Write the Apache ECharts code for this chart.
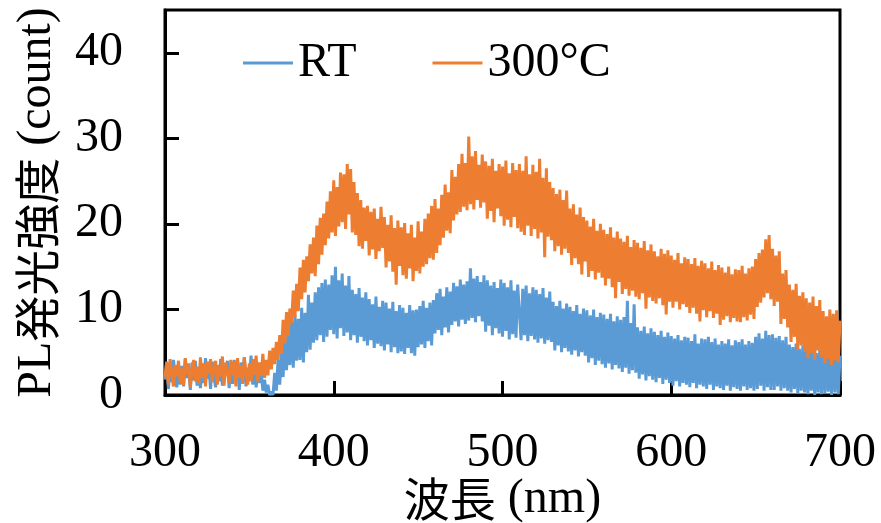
<!DOCTYPE html>
<html>
<head>
<meta charset="utf-8">
<script src="https://cdn.jsdelivr.net/npm/echarts@6/dist/echarts.min.js"></script>
<style>
html,body{margin:0;padding:0;background:#fff;}
#chart{width:881px;height:523px;}
</style>
</head>
<body>
<div id="chart"></div>
<script>
// Wavelength grid (nm)
const WL_START = 300;
const WL_STEP = 1;
const X_TICKS = [300, 400, 500, 600, 700];
const Y_TICKS = [0, 10, 20, 30, 40];
const SERIES_NAMES = ['RT', '300°C'];

// RT PL intensity (count), 300..700 nm, 1 nm step
const RT = [
  1.8, 3.9, 0.7, 3.2, 1.5, 4.1, 2.3, 0.9, 3.6, 1.2,
  3.4, 1.0, 4.2, 2.0, 3.0, 0.6, 3.8, 1.7, 4.0, 1.1,
  2.8, 0.8, 3.7, 1.4, 4.3, 1.9, 3.3, 0.7, 3.9, 2.1,
  0.9, 3.5, 1.6, 4.2, 1.1, 3.1, 2.4, 4.0, 0.8, 3.6,
  1.3, 4.1, 2.2, 3.4, 0.6, 3.8, 1.5, 4.4, 1.0, 3.2,
  2.0, 4.6, 1.2, 3.7, 0.9, 3.0, 1.4, 2.6, 0.5, 1.8,
  0.3, 1.2, 0.0, 0.4, 0.0, 2.6, 0.5, 4.1, 1.2, 5.0,
  2.1, 6.8, 2.9, 7.4, 3.5, 8.6, 3.2, 9.4, 4.0, 8.9,
  4.1, 10.2, 3.8, 9.6, 5.0, 11.7, 5.3, 10.8, 6.1, 12.0,
  6.4, 12.6, 7.0, 13.1, 6.2, 13.5, 6.8, 12.9, 7.6, 14.0,
  7.1, 15.0, 6.6, 13.4, 7.8, 14.2, 6.9, 12.8, 7.3, 13.9,
  6.4, 12.3, 7.0, 11.8, 6.1, 12.5, 6.8, 11.4, 6.3, 12.0,
  5.8, 11.2, 6.4, 10.6, 5.5, 11.5, 6.0, 10.3, 5.7, 11.0,
  5.2, 10.8, 5.9, 10.1, 5.0, 10.9, 5.6, 9.8, 4.9, 10.5,
  5.1, 10.2, 4.8, 9.6, 5.5, 10.5, 4.9, 9.9, 4.6, 10.0,
  5.6, 10.4, 5.9, 11.0, 5.5, 10.2, 6.3, 10.8, 5.8, 11.1,
  7.2, 11.9, 7.6, 12.4, 7.0, 11.5, 7.9, 12.6, 7.3, 12.1,
  8.2, 13.1, 8.6, 12.7, 8.0, 13.5, 8.8, 12.9, 8.3, 13.3,
  8.7, 14.8, 9.0, 13.6, 8.5, 13.9, 9.2, 13.2, 8.6, 14.0,
  7.4, 13.4, 8.1, 12.8, 7.0, 13.2, 7.8, 12.5, 7.2, 13.5,
  6.8, 13.1, 7.5, 12.6, 6.5, 13.4, 7.1, 12.2, 6.7, 12.9,
  13.0, 6.4, 12.4, 7.0, 12.8, 6.3, 11.9, 6.9, 12.6, 6.5,
  12.3, 6.1, 11.8, 6.6, 12.5, 6.0, 11.4, 6.4, 12.1, 6.2,
  10.9, 5.2, 10.4, 5.8, 11.0, 5.0, 10.1, 5.5, 10.7, 5.1,
  10.3, 4.7, 9.8, 5.2, 10.5, 4.5, 9.5, 5.0, 10.1, 4.6,
  9.9, 3.8, 9.3, 4.3, 10.0, 3.5, 9.1, 4.0, 9.6, 3.6,
  9.4, 3.2, 8.9, 3.7, 9.5, 3.0, 8.6, 3.5, 9.2, 3.1,
  8.8, 2.7, 9.1, 3.2, 11.0, 2.5, 8.4, 2.9, 10.6, 2.6,
  7.9, 1.9, 7.5, 2.4, 8.0, 1.7, 7.2, 2.2, 7.8, 1.8,
  7.4, 1.5, 7.0, 2.0, 7.5, 1.3, 6.8, 1.8, 7.3, 1.4,
  6.9, 1.1, 6.6, 1.6, 7.0, 1.0, 6.4, 1.4, 6.8, 1.2,
  6.7, 0.9, 6.3, 1.4, 7.1, 0.8, 6.0, 1.2, 6.6, 1.0,
  6.5, 0.7, 6.8, 1.2, 6.2, 0.6, 6.6, 1.0, 5.9, 0.8,
  6.3, 0.6, 6.0, 1.1, 6.5, 0.5, 5.8, 0.9, 6.4, 0.7,
  6.2, 0.5, 6.5, 1.0, 5.9, 0.6, 6.3, 0.8, 6.1, 0.5,
  6.8, 0.7, 7.2, 1.1, 6.6, 0.5, 7.5, 0.9, 7.0, 0.6,
  7.1, 0.6, 6.7, 1.0, 6.9, 0.5, 6.4, 0.8, 6.8, 0.5,
  5.9, 0.3, 5.6, 0.7, 6.0, 0.2, 5.4, 0.5, 5.8, 0.3,
  5.4, 0.1, 5.2, 0.5, 5.5, 0.0, 4.9, 0.3, 5.3, 0.1,
  5.1, 0.2, 5.5, 0.4, 4.8, 0.0, 5.3, 0.3, 5.0, 0.1, 4.6
];

// 300°C PL intensity (count), 300..700 nm, 1 nm step
const T300 = [
  2.1, 3.8, 1.2, 4.2, 2.6, 1.0, 3.5, 2.2, 4.0, 1.4,
  3.1, 1.1, 4.3, 2.4, 3.7, 0.9, 2.9, 4.1, 1.6, 3.3,
  1.3, 4.4, 2.0, 3.6, 1.0, 3.9, 2.5, 4.2, 1.5, 3.0,
  4.0, 1.2, 3.4, 2.2, 4.5, 1.1, 3.8, 2.7, 1.4, 4.1,
  2.3, 3.9, 1.0, 4.3, 2.0, 3.5, 1.3, 4.4, 2.6, 1.2,
  3.7, 1.6, 4.2, 2.4, 4.6, 1.5, 3.8, 2.3, 4.8, 2.0,
  4.1, 2.3, 5.2, 3.0, 5.5, 3.6, 6.2, 4.1, 7.0, 4.8,
  8.8, 6.0, 9.7, 6.9, 10.1, 8.4, 12.2, 9.1, 13.0, 9.8,
  14.9, 11.2, 15.8, 12.0, 16.2, 13.3, 17.6, 14.2, 18.4, 13.9,
  19.8, 15.3, 20.7, 16.4, 21.2, 17.5, 22.6, 18.3, 23.8, 19.0,
  25.1, 18.6, 24.3, 19.7, 26.0, 20.2, 25.8, 19.4, 27.0, 21.1,
  26.4, 19.0, 24.9, 18.7, 23.6, 17.4, 22.8, 17.1, 21.9, 18.0,
  22.1, 16.3, 21.4, 17.0, 21.8, 15.9, 20.6, 16.8, 22.0, 17.2,
  20.8, 14.9, 19.9, 15.6, 21.0, 14.4, 19.5, 12.9, 20.4, 15.1,
  19.6, 14.0, 20.1, 13.6, 18.9, 14.8, 19.9, 13.3, 18.4, 14.5,
  20.3, 14.2, 19.1, 15.0, 20.6, 15.3, 21.2, 16.0, 22.1, 15.8,
  22.9, 16.6, 21.8, 17.5, 23.4, 18.4, 24.6, 19.2, 23.7, 18.9,
  26.3, 20.4, 25.5, 21.1, 27.0, 21.4, 28.2, 22.0, 27.1, 21.6,
  30.2, 22.3, 27.9, 21.7, 28.5, 22.8, 26.9, 21.9, 28.1, 22.5,
  27.3, 20.6, 26.8, 21.5, 27.6, 20.2, 26.2, 21.8, 27.0, 20.9,
  26.7, 19.8, 27.4, 20.5, 25.9, 19.6, 27.1, 20.8, 26.3, 19.5,
  27.0, 19.1, 26.2, 18.7, 27.9, 19.8, 25.8, 18.6, 26.9, 19.4,
  26.1, 18.3, 27.6, 19.0, 25.4, 16.1, 26.5, 18.5, 24.9, 18.1,
  24.2, 16.8, 23.5, 17.4, 24.0, 16.4, 22.8, 17.1, 23.9, 16.6,
  21.8, 15.2, 22.3, 16.0, 21.1, 15.3, 21.9, 14.1, 20.8, 15.6,
  20.4, 13.8, 19.7, 14.5, 20.6, 13.5, 19.2, 14.3, 20.0, 13.7,
  19.3, 12.8, 18.8, 13.6, 19.6, 12.6, 18.4, 11.3, 19.1, 13.2,
  18.3, 11.8, 17.9, 12.4, 18.6, 11.6, 17.3, 12.2, 18.1, 11.5,
  17.8, 11.2, 17.2, 11.9, 18.0, 10.1, 16.9, 11.4, 17.6, 11.0,
  16.8, 10.7, 16.2, 11.3, 17.1, 10.5, 16.5, 9.4, 16.9, 10.9,
  16.3, 10.2, 15.8, 10.9, 16.6, 10.0, 15.4, 10.6, 16.1, 10.3,
  15.9, 9.6, 15.3, 10.2, 16.0, 9.5, 15.1, 8.6, 15.7, 9.9,
  15.4, 9.1, 14.8, 9.8, 15.6, 9.0, 14.6, 9.5, 15.2, 8.2,
  14.9, 8.8, 14.3, 9.2, 15.0, 8.5, 14.1, 9.0, 14.7, 8.6,
  14.6, 8.5, 15.1, 9.1, 14.2, 8.7, 14.8, 9.4, 15.0, 8.9,
  15.9, 10.3, 16.6, 10.8, 17.0, 11.4, 18.2, 11.9, 18.7, 11.2,
  17.1, 10.4, 16.3, 10.9, 16.8, 8.3, 14.2, 8.9, 14.6, 7.9,
  12.9, 6.2, 12.3, 6.8, 13.0, 5.3, 11.6, 5.8, 12.0, 5.1,
  11.3, 4.3, 10.8, 4.9, 11.5, 4.1, 10.4, 5.2, 11.1, 4.4,
  9.8, 3.7, 9.2, 4.2, 10.0, 3.5, 9.5, 4.0, 9.9, 3.8, 8.7
];

const SERIF = '"Liberation Serif", "Times New Roman", serif';
const CJK = '"Noto Sans CJK JP", sans-serif';

function toPairs(arr) {
  return arr.map((v, i) => [WL_START + i * WL_STEP, v]);
}

const chart = echarts.init(document.getElementById('chart'), null, {renderer: 'canvas'});
chart.setOption({
  animation: false,
  backgroundColor: '#fff',
  grid: {
    left: 165, right: 41, top: 10, bottom: 128,
    containLabel: false,
    outerBoundsMode: 'none',
    show: true, borderColor: '#000', borderWidth: 3, backgroundColor: 'transparent'
  },
  legend: {
    data: SERIES_NAMES,
    left: 238, top: 34,
    icon: 'rect',
    itemWidth: 50, itemHeight: 3,
    itemGap: 76,
    textStyle: {fontFamily: SERIF, fontSize: 48, color: '#000'}
  },
  xAxis: {
    type: 'value',
    min: X_TICKS[0], max: X_TICKS[X_TICKS.length - 1], interval: 100,
    axisLine: {show: true, onZero: false, lineStyle: {color: '#000', width: 3}},
    axisTick: {show: true, inside: true, length: 14, lineStyle: {color: '#000', width: 3}},
    splitLine: {show: false},
    axisLabel: {fontFamily: SERIF, fontSize: 48, color: '#000', margin: 34},
    name: '{c|波長}{s| (nm)}',
    nameLocation: 'middle',
    nameGap: 80,
    nameMoveOverlap: false,
    nameTextStyle: {
      rich: {
        c: {fontFamily: CJK, fontSize: 46, color: '#000'},
        s: {fontFamily: SERIF, fontSize: 48, color: '#000'}
      }
    }
  },
  yAxis: {
    type: 'value',
    min: Y_TICKS[0], max: 45, interval: 10,
    axisLine: {show: true, lineStyle: {color: '#000', width: 3}},
    axisTick: {show: true, inside: true, length: 14, lineStyle: {color: '#000', width: 3}},
    splitLine: {show: false},
    axisLabel: {fontFamily: SERIF, fontSize: 48, color: '#000', margin: 42, showMaxLabel: false},
    name: '{s|PL}{c|発光強度}{s| (count)}',
    nameLocation: 'middle',
    nameGap: 104,
    nameMoveOverlap: false,
    nameTextStyle: {
      rich: {
        c: {fontFamily: CJK, fontSize: 46, color: '#000'},
        s: {fontFamily: SERIF, fontSize: 48, color: '#000'}
      }
    }
  },
  series: [
    {
      name: SERIES_NAMES[0], type: 'line', data: toPairs(RT),
      symbol: 'none', showSymbol: false,
      lineStyle: {color: '#5B9BD5', width: 3},
      itemStyle: {color: '#5B9BD5'}
    },
    {
      name: SERIES_NAMES[1], type: 'line', data: toPairs(T300),
      symbol: 'none', showSymbol: false,
      lineStyle: {color: '#ED7D31', width: 3},
      itemStyle: {color: '#ED7D31'}
    }
  ]
});
</script>
</body>
</html>
